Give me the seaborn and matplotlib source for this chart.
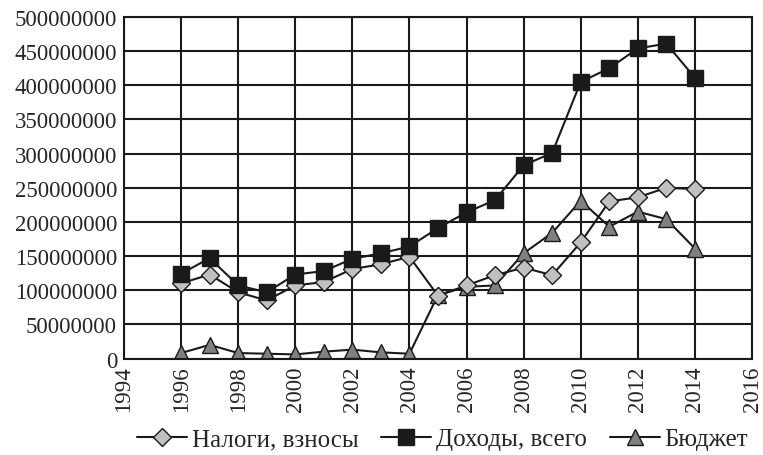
import matplotlib
matplotlib.use("Agg")
import matplotlib.pyplot as plt
import pandas as pd
import seaborn as sns

years = list(range(1996, 2015))
nalogi = [110, 123, 97, 85, 107, 112, 131, 138, 149, 92, 107, 122, 133, 122, 170, 230, 236, 250, 248]
dohody = [124, 147, 107, 97, 123, 128, 146, 154, 164, 191, 214, 232, 283, 301, 405, 425, 454, 461, 411]
byudzhet = [8, 20, 8, 7, 6, 10, 13, 9, 7, 93, 105, 107, 154, 184, 231, 193, 215, 204, 161]

labels = ["Налоги, взносы", "Доходы, всего", "Бюджет"]

df = pd.DataFrame({"year": years,
                   labels[0]: [v * 1e6 for v in nalogi],
                   labels[1]: [v * 1e6 for v in dohody],
                   labels[2]: [v * 1e6 for v in byudzhet]})

sns.set_style("white")
plt.rcParams['font.family'] = ['Liberation Serif', 'DejaVu Serif']

fig = plt.figure(figsize=(7.63, 4.56), dpi=100)
ax = fig.add_axes([0.1625, 0.2116, 0.8231, 0.7489])

styles = [("D", "#c0c0c0", 8.7), ("s", "#1a1a1a", 11.5), ("^", "#808080", 12)]
# triangles first so squares/diamonds sit on top like the original
for name, (m, c, ms) in zip([labels[2], labels[0], labels[1]], [styles[2], styles[0], styles[1]]):
    sns.lineplot(data=df, x="year", y=name, ax=ax, color="#1a1a1a", lw=1.5,
                 marker=m, markersize=ms, markerfacecolor=c, markeredgecolor="#1a1a1a",
                 markeredgewidth=1.0, label=name)

ax.set_xlim(1994, 2016)
ax.set_ylim(0, 500000000)
ax.set_xticks(range(1994, 2017, 2))
ax.set_yticks(range(0, 500000001, 50000000))
ax.set_yticklabels([str(v) for v in range(0, 500000001, 50000000)])
ax.tick_params(axis="x", labelrotation=90, length=0, labelsize=16.5, pad=5)
ax.tick_params(axis="y", length=0, labelsize=16.5, pad=5)
ax.set_xlabel("")
ax.set_ylabel("")
ax.grid(True, color="#1a1a1a", lw=1.5)
ax.set_axisbelow(True)
for s in ax.spines.values():
    s.set_color("#1a1a1a")
    s.set_linewidth(1.5)

h, l = ax.get_legend_handles_labels()
order = [l.index(n) for n in labels]
ax.legend([h[i] for i in order], [l[i] for i in order], loc="center",
          bbox_to_anchor=(0.5075, -0.236), ncol=3, frameon=False, fontsize=18,
          handlelength=2.0, handletextpad=0.2, columnspacing=0.9, borderpad=0)

fig.savefig("out.png", dpi=100)
